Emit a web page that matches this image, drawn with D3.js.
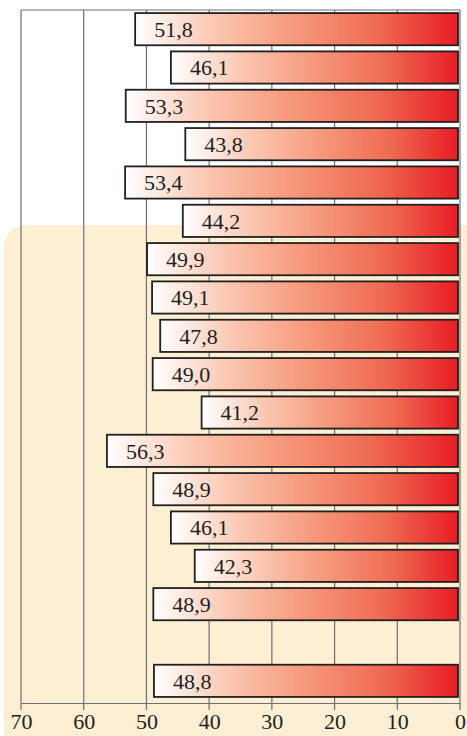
<!DOCTYPE html>
<html lang="en">
<head>
    <meta charset="UTF-8">
    <title>Bar chart</title>
    <script src="https://cdn.jsdelivr.net/npm/d3@7/dist/d3.min.js"></script>
    <style>
      body { margin: 0; background: #fff; }
      text { font-family: "Liberation Serif", "Times New Roman", serif; fill: #231f20; }
    </style>
</head>
<body>
  <script>
      var width = 467, height = 736;

      // one empty slot before the last bar
      var categories = ["r1", "r2", "r3", "r4", "r5", "r6", "r7", "r8", "r9", "r10",
                        "r11", "r12", "r13", "r14", "r15", "r16", "gap", "r17"];
      var values = [51.8, 46.1, 53.3, 43.8, 53.4, 44.2, 49.9, 49.1, 47.8, 49.0,
                    41.2, 56.3, 48.9, 46.1, 42.3, 48.9, null, 48.8];
      var ticks = [70, 60, 50, 40, 30, 20, 10, 0];

      var data = categories.map((c, i) => ({cat: c, value: values[i]}))
                           .filter(d => d.value !== null);

      var svg = d3.select('body').append('svg')
                  .attr('width', width).attr('height', height);

      var x = d3.scaleLinear().domain([70, 0]).range([21, 460]);
      var y = d3.scaleBand().domain(categories).range([10, 700])
                .paddingInner(0.16).paddingOuter(0.08);
      var axisY = 703;

      var defs = svg.append('defs');
      var grad = defs.append('linearGradient').attr('id', 'barGrad')
                     .attr('x1', '0%').attr('x2', '100%').attr('y1', '0%').attr('y2', '0%');
      [[0, '#ffffff'], [0.25, '#fbc6b0'], [0.5, '#f6987b'], [0.75, '#ef6b53'], [1, '#e81c24']]
        .forEach(s => grad.append('stop').attr('offset', s[0]).attr('stop-color', s[1]));

      // beige panel behind the lower part
      svg.append('rect')
         .attr('x', 4).attr('y', 225)
         .attr('width', width + 30).attr('height', height)
         .attr('rx', 22).attr('fill', '#fdefd4');

      // top frame line
      svg.append('line')
         .attr('x1', x(70)).attr('x2', x(0))
         .attr('y1', 10).attr('y2', 10)
         .attr('stroke', '#6d6e71').attr('stroke-width', 1.2);

      // grid lines (also serve as ticks under the axis)
      svg.append('g').selectAll('line').data(ticks).enter().append('line')
         .attr('x1', d => x(d)).attr('x2', d => x(d))
         .attr('y1', 10).attr('y2', axisY + 7)
         .attr('stroke', '#6d6e71').attr('stroke-width', 1.2);

      // bottom axis
      var axis = d3.axisBottom(x).tickValues(ticks).tickSize(0).tickPadding(10)
                   .tickFormat(d3.format('d'));
      var ag = svg.append('g').attr('transform', 'translate(0,' + axisY + ')').call(axis);
      ag.select('.domain').attr('stroke', '#6d6e71').attr('stroke-width', 1.2);
      ag.selectAll('text')
        .attr('font-size', 22)
        .attr('font-family', '"Liberation Serif", serif')
        .attr('fill', '#231f20');

      var bars = svg.append('g').selectAll('g').data(data).enter().append('g');

      bars.append('rect')
          .attr('x', d => x(d.value))
          .attr('y', d => y(d.cat))
          .attr('width', d => x(0) - 2 - x(d.value))
          .attr('height', y.bandwidth())
          .attr('fill', 'url(#barGrad)')
          .attr('stroke', '#231f20')
          .attr('stroke-width', 1.8);

      bars.append('text')
          .attr('x', d => x(d.value) + 19)
          .attr('y', d => y(d.cat) + y.bandwidth() / 2)
          .attr('dy', '0.35em')
          .attr('font-size', 22)
          .text(d => d3.format('.1f')(d.value).replace('.', ','));
  </script>
</body>
</html>
